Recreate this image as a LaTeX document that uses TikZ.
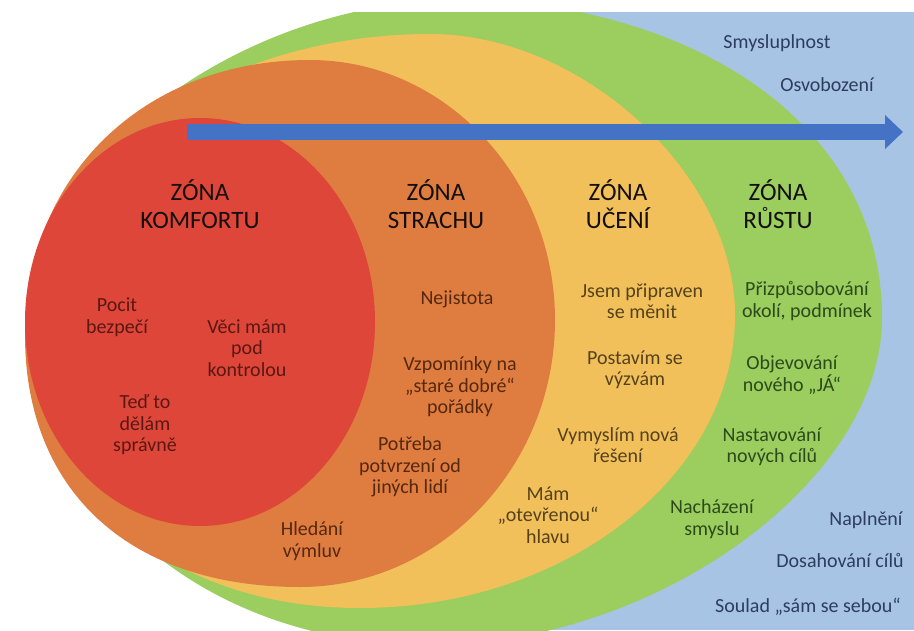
\documentclass[tikz,border=0pt]{standalone}
\usepackage{fontspec}
\setmainfont{Carlito}
\usetikzlibrary{arrows.meta}
\definecolor{bluebg}{HTML}{A7C4E4}
\definecolor{greenz}{HTML}{9BCD5F}
\definecolor{yellowz}{HTML}{F2C05A}
\definecolor{orangez}{HTML}{DF7D40}
\definecolor{redz}{HTML}{DE463A}
\definecolor{arrowc}{HTML}{4472C4}
\definecolor{headc}{HTML}{140F0D}
\definecolor{comfc}{HTML}{5A1812}
\definecolor{fearc}{HTML}{55280F}
\definecolor{learnc}{HTML}{55421C}
\definecolor{growc}{HTML}{2C4A1A}
\definecolor{bluec}{HTML}{2D3D5E}
\begin{document}
\begin{tikzpicture}[x=1pt,y=-1pt,
  every node/.style={align=center,inner sep=0pt},
  zonehead/.style={font=\fontsize{25}{28}\selectfont,text=headc},
  bodytxt/.style={font=\fontsize{20}{21.5}\selectfont},
  txtcomf/.style={bodytxt,text=comfc},
  txtfear/.style={bodytxt,text=fearc},
  txtlearn/.style={bodytxt,text=learnc},
  txtgrow/.style={bodytxt,text=growc},
  txtblue/.style={bodytxt,text=bluec}]
\useasboundingbox (0,0) rectangle (914,630);
\fill[white] (0,0) rectangle (914,630);
\begin{scope}
\clip (20,12) rectangle (914,630);
\fill[bluebg] (360,12) rectangle (914,630);
% growth zone (green)
\fill[greenz] (30,318) .. controls (30,160) and (240,0) .. (460,0)
  .. controls (671,0) and (882,111) .. (882,318)
  .. controls (882,481) and (656,645) .. (430,645)
  .. controls (180,645) and (30,470) .. cycle;
% learning zone (yellow)
\fill[yellowz] (30,330) .. controls (30,167) and (210,34) .. (430,34)
  .. controls (582.5,34) and (735,174.5) .. (735,315)
  .. controls (735,476) and (566,608) .. (360,608)
  .. controls (162,608) and (30,483) .. cycle;
% fear zone (orange)
\fill[orangez] (25,335) .. controls (25,175.5) and (144.7,60) .. (310,60)
  .. controls (444.75,60) and (555,177) .. (555,320)
  .. controls (555,467) and (440,587) .. (300,587)
  .. controls (129.5,587) and (25,491) .. cycle;
% comfort zone (red)
\fill[redz] (200,322) ellipse [x radius=175pt, y radius=204pt];
\end{scope}
% arrow
\coordinate (astart) at (187,132);
\coordinate (aend) at (903,132);
\draw[arrowc,line width=16pt,-{Triangle[length=18pt,width=33pt]}] (astart) -- (aend);
% headings
\node[zonehead] (h1) at (200,204) {ZÓNA\\KOMFORTU};
\node[zonehead] (h2) at (436,204) {ZÓNA\\STRACHU};
\node[zonehead] (h3) at (618,204) {ZÓNA\\UČENÍ};
\node[zonehead] (h4) at (778,204) {ZÓNA\\RŮSTU};
% comfort
\node[txtcomf] (c1) at (117,317) {Pocit\\bezpečí};
\node[txtcomf] (c2) at (247,348) {Věci mám\\pod\\kontrolou};
\node[txtcomf] (c3) at (145,425) {Teď to\\dělám\\správně};
% fear
\node[txtfear] (f1) at (457,299) {Nejistota};
\node[txtfear] (f2) at (460,387) {Vzpomínky na\\„staré dobré“\\pořádky};
\node[txtfear] (f3) at (410,467) {Potřeba\\potvrzení od\\jiných lidí};
\node[txtfear] (f4) at (312,541) {Hledání\\výmluv};
% learning
\node[txtlearn] (l1) at (642,301) {Jsem připraven\\se měnit};
\node[txtlearn] (l2) at (635,370) {Postavím se\\výzvám};
\node[txtlearn] (l3) at (618,445) {Vymyslím nová\\řešení};
\node[txtlearn] (l4) at (548,515) {Mám\\„otevřenou“\\hlavu};
% growth
\node[txtgrow] (g1) at (807,301) {Přizpůsobování\\okolí, podmínek};
\node[txtgrow] (g2) at (792,375) {Objevování\\nového „JÁ“};
\node[txtgrow] (g3) at (772,447) {Nastavování\\nových cílů};
\node[txtgrow] (g4) at (712,519) {Nacházení\\smyslu};
% outer
\node[txtblue] (o1) at (777,43) {Smysluplnost};
\node[txtblue] (o2) at (827,85) {Osvobození};
\node[txtblue] (o3) at (866,520) {Naplnění};
\node[txtblue] (o4) at (840,560) {Dosahování cílů};
\node[txtblue] (o5) at (808,607) {Soulad „sám se sebou“};
\end{tikzpicture}
\end{document}
